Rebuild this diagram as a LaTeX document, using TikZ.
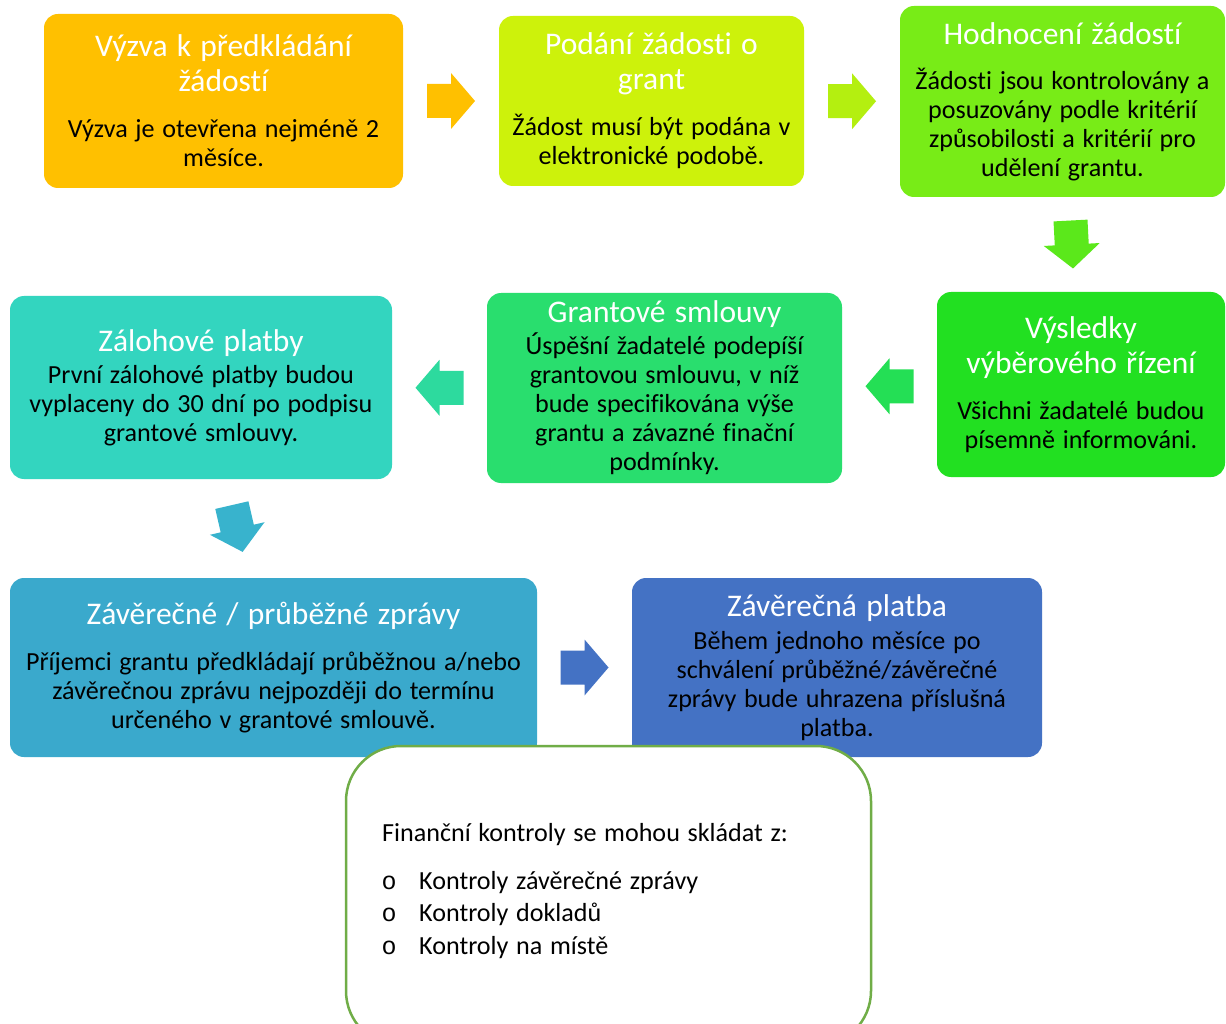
\documentclass[tikz,border=0pt]{standalone}
\usepackage{fontspec}
\setmainfont{Carlito}[Ligatures=NoCommon, WordSpace=1.3]
\newfontfamily\bulletfont{Liberation Mono}
\usetikzlibrary{calc}
\definecolor{cA}{HTML}{FFC000}
\definecolor{cB}{HTML}{CDF20B}
\definecolor{cC}{HTML}{78EC17}
\definecolor{cD}{HTML}{22E021}
\definecolor{cE}{HTML}{29DE6E}
\definecolor{cF}{HTML}{33D5BF}
\definecolor{cG}{HTML}{3AA9CC}
\definecolor{cH}{HTML}{4472C4}
\definecolor{aA}{HTML}{FFC000}
\definecolor{aB}{HTML}{B4EF10}
\definecolor{aC}{HTML}{5BE81B}
\definecolor{aD}{HTML}{24DF55}
\definecolor{aE}{HTML}{2DDA9E}
\definecolor{aF}{HTML}{38B3CD}
\definecolor{aG}{HTML}{4472C4}
\definecolor{cBorder}{HTML}{70AD47}
\newcommand{\fixsp}{\spaceskip=\fontdimen2\font\xspaceskip=\fontdimen2\font\relax}
\newcommand{\tfnt}{\fontsize{31.5}{35}\selectfont\fixsp}
\newcommand{\bfnt}{\fontsize{26.1}{29}\selectfont\fixsp}
\newcommand{\ttl}[1]{{\tfnt\color{white}#1\par}}
\newcommand{\bdy}[1]{{\bfnt\color{black}#1\par}}
\tikzset{
  box/.style={rounded corners=14pt, inner sep=0pt, align=flush center},
  barrow/.pic={\fill[#1] (-24,-17) -- (0,-17) -- (0,-28) -- (24,0) -- (0,28) -- (0,17) -- (-24,17) -- cycle;},
  plain/.style={inner sep=0pt, font=\bfnt},
  bul/.style={inner sep=0pt, anchor=base, font={\bulletfont\fontsize{25}{29}\selectfont}},
}
\begin{document}
\begin{tikzpicture}[x=1pt,y=-1pt]
\useasboundingbox (0,0) rectangle (1226,1024);
\clip (0,0) rectangle (1226,1024);
\fill[white] (0,0) rectangle (1226,1024);

\node[box, fill=cA, minimum width=359pt, minimum height=174pt, text width=354pt] (b1) at (223.5,101)
  {\ttl{Výzva k předkládání\\žádostí}\vspace{17pt}\bdy{Výzva je otevřena nejméně 2\\měsíce.}};
\node[box, fill=cB, minimum width=305pt, minimum height=170pt, text width=302pt] (b2) at (651.5,101)
  {\ttl{Podání žádosti o\\grant}\vspace{17pt}\bdy{Žádost musí být podána v\\elektronické podobě.}};
\node[box, fill=cC, minimum width=325pt, minimum height=191pt, text width=322pt] (b3) at (1062.5,101.5)
  {\ttl{Hodnocení žádostí}\vspace{16pt}\bdy{Žádosti jsou kontrolovány a\\posuzovány podle kritérií\\způsobilosti a kritérií pro\\udělení grantu.}};
\node[box, fill=cD, minimum width=288pt, minimum height=185pt, text width=286pt] (b4) at (1081,384.5)
  {\ttl{Výsledky\\výběrového řízení}\vspace{17pt}\bdy{Všichni žadatelé budou\\písemně informováni.}};
\node[box, fill=cE, minimum width=355pt, minimum height=190pt, text width=352pt] (b5) at (664.5,388)
  {\ttl{Grantové smlouvy}\vspace{3pt}\bdy{Úspěšní žadatelé podepíší\\grantovou smlouvu, v níž\\bude specifikována výše\\grantu a závazné finační\\podmínky.}};
\node[box, fill=cF, minimum width=382pt, minimum height=183pt, text width=380pt] (b6) at (201,387.5)
  {\ttl{Zálohové platby}\vspace{3pt}\bdy{První zálohové platby budou\\vyplaceny do 30 dní po podpisu\\grantové smlouvy.}};
\node[box, fill=cG, minimum width=527pt, minimum height=179pt, text width=525pt] (b7) at (273.5,667.5)
  {\ttl{Závěrečné / průběžné zprávy}\vspace{17pt}\bdy{Příjemci grantu předkládají průběžnou a/nebo\\závěrečnou zprávu nejpozději do termínu\\určeného v grantové smlouvě.}};
\node[box, fill=cH, minimum width=410pt, minimum height=179pt, text width=406pt] (b8) at (837,667.5)
  {\ttl{Závěrečná platba}\vspace{4pt}\bdy{Během jednoho měsíce po\\schválení průběžné/závěrečné\\zprávy bude uhrazena příslušná\\platba.}};

\pic at ($(b1.east)!0.5!(b2.west)$) {barrow=aA};
\pic at ($(b2.east)!0.5!(b3.west)$) {barrow=aB};
\pic[rotate=-87] at ($(b3.south)!0.5!(b4.north)$) {barrow=aC};
\pic[rotate=180] at ($(b4.west)!0.5!(b5.east)$) {barrow=aD};
\pic[rotate=180] at ($(b5.west)!0.5!(b6.east)$) {barrow=aE};
\pic[rotate=-77] at ($(b6.south)!0.5!(b7.north)$) {barrow=aF};
\pic at ($(b7.east)!0.5!(b8.west)$) {barrow=aG};

\node[draw=cBorder, line width=2.5pt, rounded corners=55pt, fill=white, inner sep=0pt,
  minimum width=525pt, minimum height=300pt] (b9) at (608.5,896) {};
\node[plain, anchor=base west] (fk) at (382,841) {Finanční kontroly se mohou skládat z:};
\node[bul] (o1) at (389,889) {o};
\node[bul] (o2) at (389,921.5) {o};
\node[bul] (o3) at (389,954) {o};
\node[plain, anchor=base west] (k1) at (419,889) {Kontroly závěrečné zprávy};
\node[plain, anchor=base west] (k2) at (419,921.5) {Kontroly dokladů};
\node[plain, anchor=base west] (k3) at (419,954) {Kontroly na místě};
\end{tikzpicture}
\end{document}
